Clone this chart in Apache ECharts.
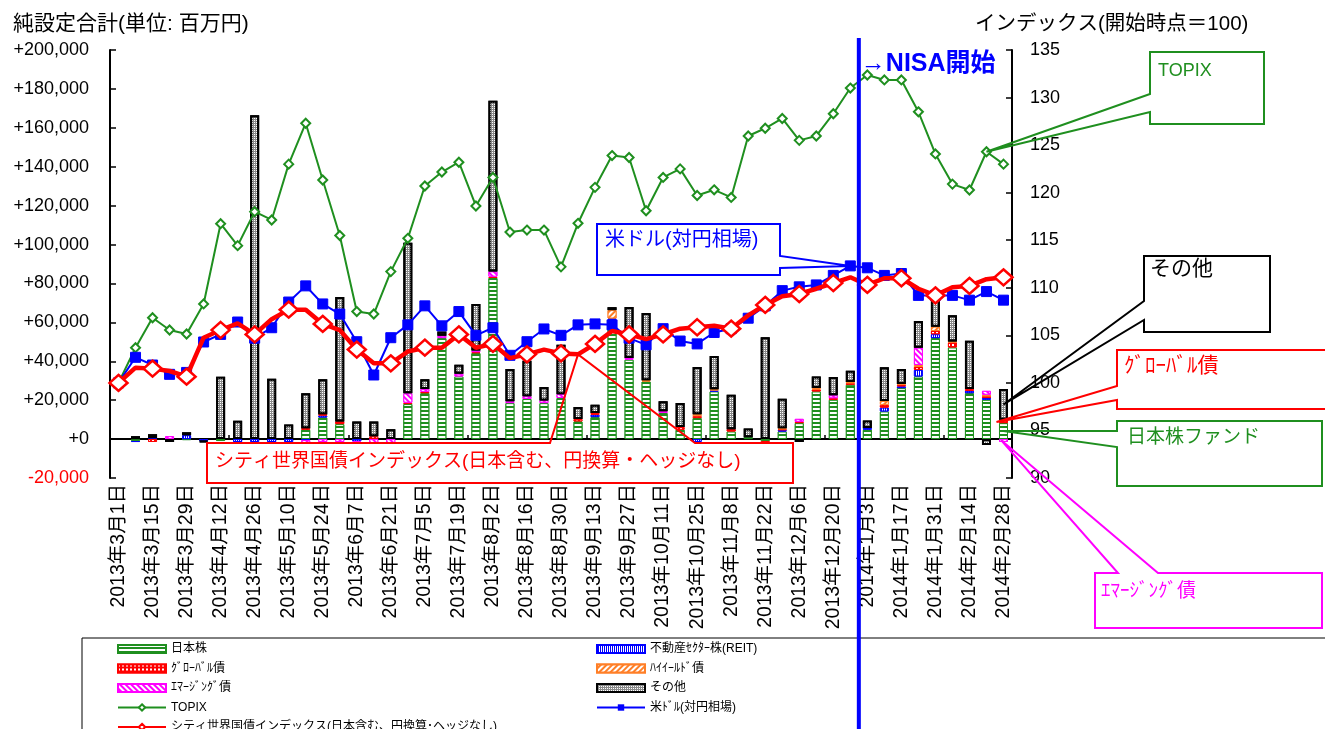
<!DOCTYPE html>
<html>
<head>
<meta charset="utf-8">
<script src="https://cdn.jsdelivr.net/npm/echarts@6/dist/echarts.min.js"></script>
<style>
html,body{margin:0;padding:0;background:#fff;}
#chart{width:1325px;height:729px;}
</style>
</head>
<body>
<div id="chart"></div>
<script>
// 週次データ 2013/3/1 - 2014/2/28
var weeks = ['2013年3月1日','2013年3月8日','2013年3月15日','2013年3月22日','2013年3月29日','2013年4月5日','2013年4月12日','2013年4月19日','2013年4月26日','2013年5月3日','2013年5月10日','2013年5月17日','2013年5月24日','2013年5月31日','2013年6月7日','2013年6月14日','2013年6月21日','2013年6月28日','2013年7月5日','2013年7月12日','2013年7月19日','2013年7月26日','2013年8月2日','2013年8月9日','2013年8月16日','2013年8月23日','2013年8月30日','2013年9月6日','2013年9月13日','2013年9月20日','2013年9月27日','2013年10月4日','2013年10月11日','2013年10月18日','2013年10月25日','2013年11月1日','2013年11月8日','2013年11月15日','2013年11月22日','2013年11月29日','2013年12月6日','2013年12月13日','2013年12月20日','2013年12月27日','2014年1月3日','2014年1月10日','2014年1月17日','2014年1月24日','2014年1月31日','2014年2月7日','2014年2月14日','2014年2月21日','2014年2月28日'];

// 純設定 (百万円)
var japanStock = [0,-1000,0,0,-500,0,-1000,0,0,0, 0,4800,11100,7700,0,0,0,18000,23600,51900, 32200,44200,82800,18500,20600,18500,21100,9100,11300,61500, 40800,29600,13400,4800,10800,24500,3900,1000,-1000,3900, 8200,24500,20200,27900,4800,14200,26200,32200,51900,47100, 23600,20200,8200];
var reit = [0,-500,500,0,2000,-1000,0,-1500,-1500,-1500, -1500,-500,1000,0,-1200,0,0,0,0,0, 0,0,0,0,0,0,0,0,1200,500, 0,0,0,0,-1500,500,0,0,0,700, 0,0,0,0,900,2000,900,3400,2000,0, 1200,900,0];
var globalBond = [0,0,-1500,0,0,0,0,0,0,0, -1000,800,700,1400,0,1400,0,700,700,0, 0,500,700,0,0,0,0,1200,900,0, 0,0,0,1400,1000,0,1200,0,-1500,500, 700,1000,800,800,0,1400,700,1500,1700,2600, 1000,900,1200];
var highYield = [0,0,0,0,0,0,0,0,0,0, 0,0,0,0,0,0,0,0,0,0, 0,0,0,0,0,0,0,0,0,4300, 0,600,0,0,1000,600,0,0,0,500, 0,700,0,600,0,2000,500,1000,2200,500, 0,800,500];
var emergingBond = [0,0,0,1500,0,0,0,0,0,0, 0,-1500,-1500,-1500,-500,-2000,-2000,4800,1500,1200, 1400,800,2700,900,1400,1400,2000,0,0,0, 900,0,900,0,0,0,0,0,0,0, 1500,0,1500,0,0,0,0,8900,0,0, 0,2000,-1500];
var others = [0,1500,2000,-1500,1500,-500,32000,9400,166500,31000, 7500,18000,18000,64000,9000,7700,5100,77400,5000,2200, 4600,24000,87700,16600,18300,6900,25400,6200,4300,1500, 26200,34600,5100,12300,24200,17100,17700,4500,52400,15200, -1500,6000,9400,5800,3800,17300,7700,13700,18800,13400, 24700,-3000,15800];

// インデックス (開始時点=100)
var topix = [100,103.7,106.85,105.56,105.14,108.3,116.74,114.43,118.0,117.13,123.0,127.3,121.33,115.5,107.5,107.24,111.7,115.2,120.7,122.17,123.2,118.6,121.6,115.86,116.07,116.07,112.2,116.78,120.56,123.9,123.7,118.1,121.6,122.5,119.7,120.3,119.5,125.96,126.77,127.8,125.5,125.96,128.3,131.0,132.37,131.85,131.85,128.5,124.07,120.9,120.28,124.3,123.0];
var usdJpy = [100,102.69,101.88,100.9,101.1,104.3,105.1,106.4,104.7,105.8,108.5,110.2,108.3,107.24,104.33,100.83,104.75,106.1,108.1,106.0,107.5,105.0,105.8,102.9,104.33,105.67,105.0,106.1,106.2,106.1,104.7,104.0,105.7,104.4,104.1,105.3,105.7,106.8,108.1,109.7,110.1,110.3,111.3,112.3,112.1,111.3,111.5,109.2,109.2,109.2,108.7,109.6,108.7];
var citiWgbi = [100,101.6,101.5,101.25,100.65,104.75,105.56,106.26,105.1,106.7,107.7,107.7,106.2,105.56,103.5,102.06,102.06,103.3,103.7,103.7,105.1,103.7,104.1,102.6,103.0,103.5,103.1,103.0,104.1,105.46,105.1,104.6,105.1,105.7,105.85,106.0,105.7,107.1,108.2,109.1,109.35,109.9,110.5,111.1,110.3,111.0,111.0,109.9,109.2,110.05,110.2,110.9,111.1];

var leftTicks = [-20000,0,20000,40000,60000,80000,100000,120000,140000,160000,180000,200000];
var rightTicks = [90,95,100,105,110,115,120,125,130,135];

var FONT = '"Liberation Sans", "Noto Sans CJK JP", sans-serif';
var GREEN = '#1f8f1f', BLUE = '#0000ff', RED = '#ff0000', MAGENTA = '#ff00ff', ORANGE = '#ff7f27';

var N_JP = '日本株', N_REIT = '不動産ｾｸﾀｰ株(REIT)', N_GLOB = 'ｸﾞﾛｰﾊﾞﾙ債', N_HY = 'ﾊｲｲｰﾙﾄﾞ債',
    N_EM = 'ｴﾏｰｼﾞﾝｸﾞ債', N_OTHER = 'その他', N_TOPIX = 'TOPIX', N_USD = '米ﾄﾞﾙ(対円相場)',
    N_WGBI = 'シティ世界国債インデックス(日本含む、円換算･ヘッジなし)';

function bar(name, arr, color, decal, border, bw) {
    return {
        name: name, type: 'bar', stack: 'fund', barWidth: 9,
        xAxisIndex: 0, yAxisIndex: 0,
        data: arr.map(function (v) { return v === 0 ? '-' : v; }),
        itemStyle: {color: color, decal: decal, borderColor: border, borderWidth: bw},
        emphasis: {disabled: true}
    };
}

var legendText = {fontSize: 12, lineHeight: 14, color: '#000', fontFamily: FONT};

var chart = echarts.init(document.getElementById('chart'));
var option = {
    animation: false,
    backgroundColor: '#fff',
    textStyle: {fontFamily: FONT},
    title: [
        {text: '純設定合計(単位: 百万円)', left: 8, top: 9, textStyle: {fontSize: 21, fontWeight: 'normal', color: '#000', fontFamily: FONT}},
        {text: 'インデックス(開始時点＝100)', left: 970, top: 9, textStyle: {fontSize: 20.5, fontWeight: 'normal', color: '#000', fontFamily: FONT}}
    ],
    grid: {left: 110, right: 313, top: 50, bottom: 251},
    legend: [
        {orient: 'vertical', left: 112, top: 637, height: 150, itemWidth: 48, itemHeight: 8, itemGap: 5.5, selectedMode: false,
         textStyle: legendText,
         data: [{name: N_JP, icon: 'rect'}, {name: N_GLOB, icon: 'rect'}, {name: N_EM, icon: 'rect'}, N_TOPIX, N_WGBI]},
        {orient: 'vertical', left: 591, top: 637, height: 150, itemWidth: 48, itemHeight: 8, itemGap: 5.5, selectedMode: false,
         textStyle: legendText,
         data: [{name: N_REIT, icon: 'rect'}, {name: N_HY, icon: 'rect'}, {name: N_OTHER, icon: 'rect'}, N_USD]}
    ],
    xAxis: [
        {type: 'category', data: weeks, position: 'bottom',
         axisLine: {show: false, onZero: false}, axisTick: {show: false},
         axisLabel: {rotate: 90, interval: 1, fontSize: 19.5, margin: 6, color: '#000', fontFamily: FONT}},
        {type: 'category', data: weeks, position: 'top',
         axisLine: {show: true, onZero: true, onZeroAxisIndex: 0, lineStyle: {color: '#000', width: 2}},
         axisTick: {show: true, inside: false, length: 4, lineStyle: {color: '#000', width: 1.5}},
         axisLabel: {show: false}}
    ],
    yAxis: [
        {type: 'value', min: leftTicks[0], max: leftTicks[leftTicks.length - 1], interval: 20000, position: 'left',
         axisLine: {show: true, onZero: false, lineStyle: {color: '#000', width: 2}},
         axisTick: {show: true, inside: true, length: 6, lineStyle: {color: '#000', width: 1.5}},
         splitLine: {show: false},
         axisLabel: {fontSize: 18, margin: 21, fontFamily: FONT,
             color: function (v) { return v < 0 ? RED : '#000'; },
             formatter: function (v) {
                 if (v === 0) return '+0';
                 return (v > 0 ? '+' : '-') + Math.abs(v).toLocaleString('en-US');
             }}},
        {type: 'value', min: rightTicks[0], max: rightTicks[rightTicks.length - 1], interval: 5, position: 'right',
         axisLine: {show: true, onZero: false, lineStyle: {color: '#000', width: 2}},
         axisTick: {show: true, inside: true, length: 6, lineStyle: {color: '#000', width: 1.5}},
         splitLine: {show: false},
         axisLabel: {fontSize: 18, margin: 18, color: '#000', fontFamily: FONT}}
    ],
    series: [
        bar(N_JP, japanStock, GREEN, {symbol: 'rect', symbolSize: 1, dashArrayX: [1, 0], dashArrayY: [2, 2], color: '#fff'}, GREEN, 1),
        bar(N_REIT, reit, BLUE, {symbol: 'rect', symbolSize: 1, dashArrayX: [1, 1], dashArrayY: [4, 0], color: '#fff'}, BLUE, 1),
        bar(N_GLOB, globalBond, RED, {symbol: 'rect', symbolSize: 1, dashArrayX: [2, 2], dashArrayY: [2, 2], color: '#fff'}, RED, 1),
        bar(N_HY, highYield, ORANGE, {symbol: 'rect', symbolSize: 1, dashArrayX: [1, 0], dashArrayY: [2, 2], rotation: -Math.PI / 4, color: '#fff'}, ORANGE, 1),
        bar(N_EM, emergingBond, MAGENTA, {symbol: 'rect', symbolSize: 1, dashArrayX: [1, 0], dashArrayY: [2, 2], rotation: Math.PI / 4, color: '#fff'}, MAGENTA, 1),
        bar(N_OTHER, others, '#8a8a8a', {symbol: 'rect', symbolSize: 1, dashArrayX: [1, 1], dashArrayY: [1, 1], color: '#fff'}, '#000', 2),
        {name: N_TOPIX, type: 'line', xAxisIndex: 0, yAxisIndex: 1, data: topix,
         symbol: 'diamond', symbolSize: 9, z: 3,
         lineStyle: {color: GREEN, width: 2},
         itemStyle: {color: '#fff', borderColor: GREEN, borderWidth: 2},
         emphasis: {disabled: true}},
        {name: N_USD, type: 'line', xAxisIndex: 0, yAxisIndex: 1, data: usdJpy,
         symbol: 'rect', symbolSize: 10, z: 4,
         lineStyle: {color: BLUE, width: 2},
         itemStyle: {color: BLUE, borderColor: BLUE},
         emphasis: {disabled: true}},
        {name: N_WGBI, type: 'line', xAxisIndex: 0, yAxisIndex: 1, data: citiWgbi,
         symbol: 'diamond', symbolSize: [18, 16], z: 5,
         lineStyle: {color: RED, width: 4.5},
         itemStyle: {color: '#fff', borderColor: RED, borderWidth: 2.5},
         emphasis: {disabled: true}}
    ]
};
chart.setOption(option);

// 注記 (吹き出し・NISA開始ライン)
var X = function (i) { return chart.convertToPixel({xAxisIndex: 0}, i); };
var YL = function (v) { return chart.convertToPixel({yAxisIndex: 0}, v); };
var YR = function (v) { return chart.convertToPixel({yAxisIndex: 1}, v); };

function callout(L, T, R, B, side, w1, w2, tip, color, text, tx, ty, fs) {
    var pts;
    if (side === 'left') pts = [[L, T], [R, T], [R, B], [L, B], [L, w2], tip, [L, w1]];
    else if (side === 'right') pts = [[L, T], [R, T], [R, w1], tip, [R, w2], [R, B], [L, B]];
    else pts = [[L, T], [w1, T], tip, [w2, T], [R, T], [R, B], [L, B]];
    return [
        {type: 'rect', z: 100, shape: {x: L, y: T, width: R - L, height: B - T}, style: {fill: '#fff'}},
        {type: 'polygon', z: 101, shape: {points: pts}, style: {fill: 'none', stroke: color, lineWidth: 2}},
        {type: 'text', z: 102, left: tx, top: ty, style: {text: text, fill: color, font: fs + 'px ' + FONT}}
    ];
}

var nisaX = (X(43) + X(44)) / 2;
var last = 52;
var g = [];
g.push({type: 'rect', z: 1, shape: {x: 82, y: 638, width: 1300, height: 200}, style: {fill: 'none', stroke: '#000', lineWidth: 1}});
g = g.concat(callout(1150, 52, 1264, 124, 'left', 94, 112, [X(51), YR(topix[51])], GREEN, 'TOPIX', 1158, 62, 18));
g = g.concat(callout(597, 224, 780, 275, 'right', 256, 268, [X(43), YR(usdJpy[43])], BLUE, '米ドル(対円相場)', 605, 230, 20));
g = g.concat(callout(207, 443, 793, 483, 'top', 550, 695, [X(27), YR(citiWgbi[27])], RED, 'シティ世界国債インデックス(日本含む、円換算・ヘッジなし)', 215, 452, 19));
g = g.concat(callout(1144, 256, 1270, 332, 'left', 301, 320,
    [X(last), YL(japanStock[last] + globalBond[last] + highYield[last] + others[last] / 2)], '#000', 'その他', 1150, 259, 21));
g = g.concat(callout(1117, 350, 1340, 409, 'left', 386, 400,
    [X(last) - 7, YL(japanStock[last] + globalBond[last] / 2)], RED, 'ｸﾞﾛｰﾊﾞﾙ債', 1124, 356, 21));
g = g.concat(callout(1117, 421, 1322, 486, 'left', 431, 447,
    [X(last), YL(japanStock[last] / 2)], GREEN, '日本株ファンド', 1127, 428, 19));
g = g.concat(callout(1095, 573, 1322, 628, 'top', 1118, 1158,
    [X(last) - 2, YL(emergingBond[last] / 2)], MAGENTA, 'ｴﾏｰｼﾞﾝｸﾞ債', 1101, 582, 19));
g.push({type: 'line', z: 90, shape: {x1: nisaX, y1: 38, x2: nisaX, y2: 729}, style: {stroke: BLUE, lineWidth: 4}});
g.push({type: 'text', z: 90, left: nisaX + 2, top: 52, style: {text: '→NISA開始', fill: BLUE, font: 'bold 25px ' + FONT}});
chart.setOption({graphic: g});
</script>
</body>
</html>
